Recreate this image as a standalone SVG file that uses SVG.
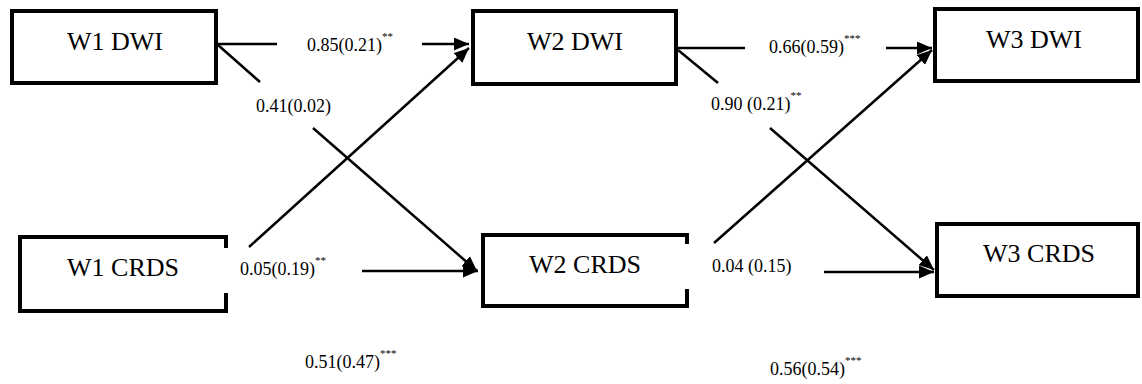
<svg xmlns="http://www.w3.org/2000/svg" width="1142" height="384" viewBox="0 0 1142 384" font-family="'Liberation Serif', 'Times New Roman', 'DejaVu Serif', serif">
<style>
.box{fill:#fff;stroke:#000;stroke-width:4}
.open{fill:none;stroke:#000;stroke-width:4}
.nt{font-family:'Liberation Serif','Times New Roman','DejaVu Serif',serif;font-size:26px;fill:#000;text-anchor:middle}
.lb{font-family:'Liberation Serif','Times New Roman','DejaVu Serif',serif;font-size:18px;fill:#000}
.sup{font-size:11px}
.ln{stroke:#000;stroke-width:2.5;fill:none}
</style>
<defs>
<marker id="ah" markerUnits="userSpaceOnUse" markerWidth="16" markerHeight="13" refX="15" refY="6.5" orient="auto">
<path d="M0,0 L15,6.5 L0,13 z" fill="#000"/>
</marker>
</defs>
<g id="connectors">
<line class="ln" x1="218" y1="44" x2="277" y2="44"/>
<line class="ln" x1="422" y1="44" x2="469" y2="44" marker-end="url(#ah)"/>
<line class="ln" x1="218" y1="45" x2="260" y2="82"/>
<line class="ln" x1="313" y1="128" x2="477" y2="271" marker-end="url(#ah)"/>
<line class="ln" x1="249" y1="247" x2="469" y2="48" marker-end="url(#ah)"/>
<line class="ln" x1="362" y1="271" x2="478" y2="271" marker-end="url(#ah)"/>
<line class="ln" x1="678" y1="48" x2="745" y2="48"/>
<line class="ln" x1="886" y1="48" x2="932" y2="48" marker-end="url(#ah)"/>
<line class="ln" x1="678" y1="50" x2="718" y2="83"/>
<line class="ln" x1="770" y1="128" x2="934" y2="270" marker-end="url(#ah)"/>
<line class="ln" x1="714" y1="243" x2="932" y2="50" marker-end="url(#ah)"/>
<line class="ln" x1="824" y1="272" x2="934" y2="272" marker-end="url(#ah)"/>
</g>
<g id="labels" font-family="'Liberation Serif', serif">
<text class="lb" x="307" y="51">0.85(0.21)<tspan class="sup" dy="-11">**</tspan></text>
<text class="lb" x="256" y="112">0.41(0.02)</text>
<text class="lb" x="240" y="275">0.05(0.19)<tspan class="sup" dy="-11">**</tspan></text>
<text class="lb" x="305" y="368">0.51(0.47)<tspan class="sup" dy="-11">***</tspan></text>
<text class="lb" x="769" y="53">0.66(0.59)<tspan class="sup" dy="-11">***</tspan></text>
<text class="lb" x="711" y="110">0.90 (0.21)<tspan class="sup" dy="-11">**</tspan></text>
<text class="lb" x="712" y="272">0.04 (0.15)</text>
<text class="lb" x="770" y="375">0.56(0.54)<tspan class="sup" dy="-11">***</tspan></text>
</g>
<g id="w1dwi">
<rect class="box" x="12" y="11" width="204" height="72"/>
<text class="nt" x="115" y="50">W1 DWI</text>
</g>
<g id="w1crds">
<path class="open" d="M226,248 V237 H20 V311 H226 V293"/>
<text class="nt" x="123" y="276">W1 CRDS</text>
</g>
<g id="w2dwi">
<rect class="box" x="473" y="11" width="203" height="73"/>
<text class="nt" x="575" y="50">W2 DWI</text>
</g>
<g id="w2crds">
<path class="open" d="M687,244 V235 H483 V306 H687 V289"/>
<text class="nt" x="585" y="273">W2 CRDS</text>
</g>
<g id="w3dwi">
<rect class="box" x="935" y="9" width="203" height="72"/>
<text class="nt" x="1034" y="48">W3 DWI</text>
</g>
<g id="w3crds">
<rect class="box" x="937" y="224" width="201" height="72"/>
<text class="nt" x="1039" y="262">W3 CRDS</text>
</g>
</svg>
